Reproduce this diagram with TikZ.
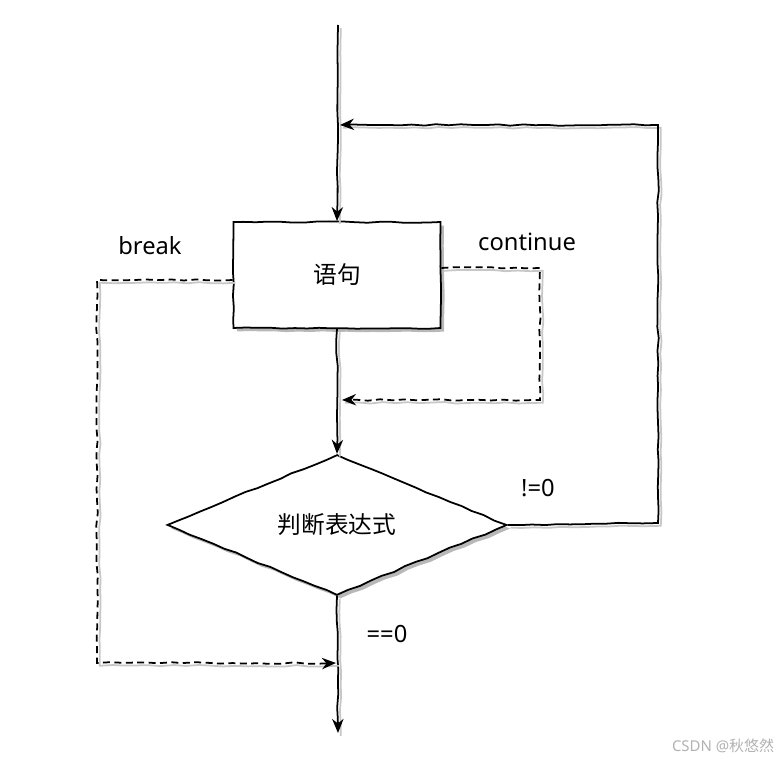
\documentclass[tikz,border=0pt]{standalone}
\usepackage{fontspec}
\setmainfont{Noto Sans}
\newfontfamily\cjk{Noto Sans CJK SC}
\usetikzlibrary{arrows.meta, positioning, shapes.geometric, shadows, decorations.pathmorphing}
\tikzset{
  sketch/.style={decorate, decoration={random steps, segment length=7pt, amplitude=0.45pt}},
  shadeline/.style={preaction={draw=black!22, line width=1pt, -, transform canvas={shift={(1.6pt,-1.6pt)}}}},
  flow/.style={sketch, shadeline, line width=1pt, -{Stealth[length=8pt,width=6.5pt]}},
  jump/.style={flow, dash pattern=on 4pt off 2.5pt},
  blockbox/.style={draw, line width=1pt, fill=white, sketch, inner sep=0pt,
    drop shadow={shadow xshift=2pt, shadow yshift=-2pt, fill=black!28, opacity=1}},
  lbl/.style={font=\fontsize{13.5}{16}\selectfont},
}
\begin{document}
\begin{tikzpicture}[x=0.02cm, y=-0.02cm]
  \useasboundingbox[fill=white] (0,0) rectangle (779,759);
  % blocks
  \node[blockbox, minimum width=4.14cm, minimum height=2.12cm, lbl] (stmt) at (337,275) {\cjk 语句};
  \node[blockbox, diamond, minimum width=6.8cm, minimum height=2.8cm, lbl] (cond) at (337,525) {\cjk 判断表达式};
  % free ends and corners
  \coordinate (top) at (338,25);
  \coordinate (bottom) at (338,733);
  \coordinate (loopA) at (658,523);
  \coordinate (loopB) at (658,125);
  \coordinate (loopIn) at (340,125);
  \coordinate (contA) at (540,268);
  \coordinate (contB) at (540,400);
  \coordinate (contIn) at (342,400);
  \coordinate (brkA) at (97,280);
  \coordinate (brkB) at (97,663);
  \coordinate (brkIn) at (336,663);
  % main flow
  \draw[flow] (top) -- (stmt.north);
  \draw[flow] (stmt.south) -- (cond.north);
  \draw[flow] (cond.south) -- (bottom);
  \draw[flow] (cond.east) -- (loopA) -- (loopB) -- (loopIn);
  % continue / break
  \draw[jump] (stmt.east |- contA) -- (contA) -- (contB) -- (contIn);
  \draw[jump] (stmt.west |- brkA) -- (brkA) -- (brkB) -- (brkIn);
  % labels
  \node[lbl] (lbrk) at (150,246) {break};
  \node[lbl] (lcont) at (527,242) {continue};
  \node[lbl] (lne) at (538,488) {!=0};
  \node[lbl] (leq) at (387,634) {==0};
  \node[text=black!30, font=\fontsize{8.5}{10}\selectfont] (mark) at (723,746) {CSDN @\cjk 秋悠然};
\end{tikzpicture}
\end{document}
